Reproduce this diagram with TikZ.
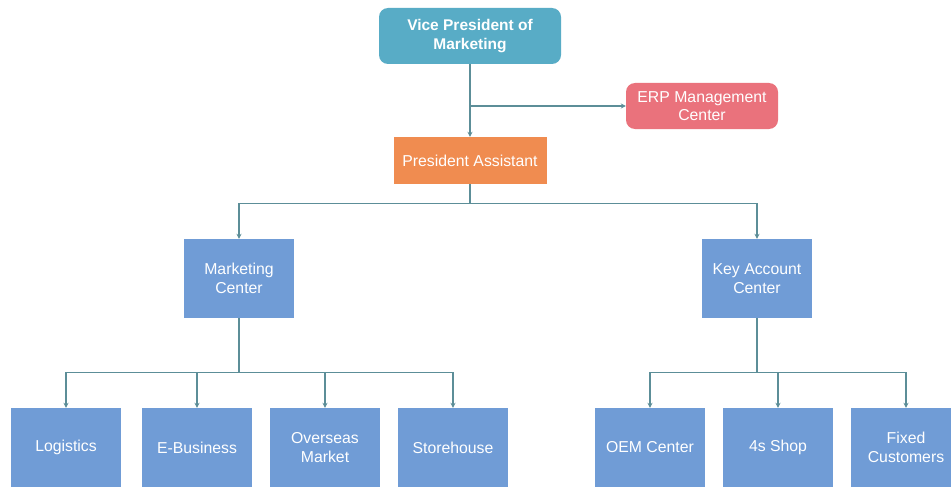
\documentclass[tikz,border=0pt]{standalone}
\usepackage{fontspec}
\setmainfont{Liberation Sans}
\usetikzlibrary{arrows.meta}
\definecolor{vpcol}{RGB}{88,172,198}
\definecolor{erpcol}{RGB}{234,114,124}
\definecolor{pacol}{RGB}{240,140,80}
\definecolor{bluebox}{RGB}{112,156,214}
\definecolor{linecol}{RGB}{92,142,152}
\tikzset{
  box/.style={fill=bluebox, draw=none, text=white, align=center, inner sep=2pt,
    font=\fontsize{15.8}{18.5}\selectfont, minimum width=110pt, minimum height=79pt},
  conn/.style={draw=linecol, line width=1.2pt, -{Stealth[length=5pt,width=5pt]}}
}
\begin{document}
\begin{tikzpicture}[x=1pt,y=-1pt]
\clip (0,0) rectangle (951,487);
\fill[white] (0,0) rectangle (951,487);
\node[box, fill=vpcol, rounded corners=9pt, minimum width=182pt, minimum height=56pt, font=\bfseries\fontsize{15.5}{18.5}\selectfont] (vp) at (470,36) {Vice President of\\Marketing};
\node[box, fill=erpcol, rounded corners=9pt, minimum width=152pt, minimum height=46pt] (erp) at (702,106) {ERP Management\\Center};
\node[box, fill=pacol, minimum width=153pt, minimum height=47pt] (pa) at (470,160.5) {President Assistant};
\node[box] (mc) at (239,278.5) {Marketing\\Center};
\node[box] (ka) at (757,278.5) {Key Account\\Center};
\node[box] (l1) at (66,447.5) {Logistics};
\node[box] (l2) at (197,447.5) {E-Business};
\node[box] (l3) at (325,447.5) {Overseas\\Market};
\node[box] (l4) at (453,447.5) {Storehouse};
\node[box] (r1) at (650,447.5) {OEM Center};
\node[box] (r2) at (778,447.5) {4s Shop};
\node[box] (r3) at (906,447.5) {Fixed\\Customers};
\draw[conn] (vp.south) -- (pa.north);
\draw[conn] (vp.south |- erp.west) -- (erp.west);
\foreach \t in {mc,ka} \draw[conn] (pa.south) -- ++(0,19) -| (\t.north);
\foreach \t in {l1,l2,l3,l4} \draw[conn] (mc.south) -- ++(0,54) -| (\t.north);
\foreach \t in {r1,r2,r3} \draw[conn] (ka.south) -- ++(0,54) -| (\t.north);
\end{tikzpicture}
\end{document}
